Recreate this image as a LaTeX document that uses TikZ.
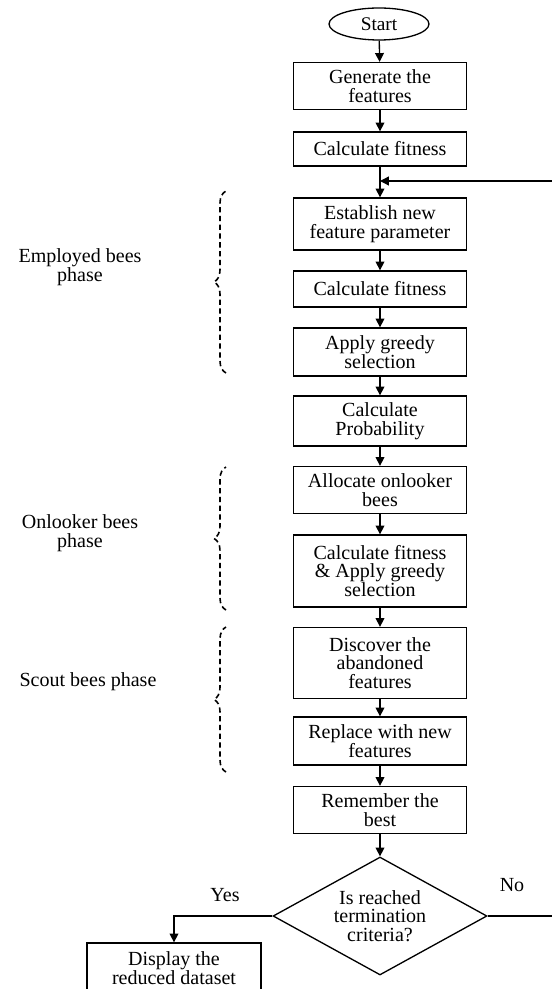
\documentclass[tikz,border=0pt]{standalone}
\usepackage{fontspec}
\setmainfont{Liberation Serif}
\usetikzlibrary{shapes.geometric,arrows.meta,decorations.pathreplacing}

\begin{document}
\begin{tikzpicture}[x=0.02cm, y=-0.02cm,
    every node/.style={font=\fontsize{11.4}{10.6}\selectfont, align=center},
    box/.style={rectangle, draw, line width=0.75pt, minimum width=3.46cm, inner sep=2pt},
    arr/.style={line width=0.75pt, -{Triangle[length=5pt,width=5pt]}},
    phase/.style={line width=0.9pt, dash pattern=on 3pt off 2pt,
        decorate, decoration={brace, amplitude=0.24cm}}]
    \useasboundingbox (0,0) rectangle (551,989);

    % ノードの定義
    \node[ellipse, draw, line width=0.75pt, minimum width=2cm, minimum height=0.64cm, inner sep=0pt, font=\fontsize{11}{10.6}\selectfont] (start) at (379, 24) {Start};
    \node[box, minimum height=0.94cm] (gen) at (380, 86) {Generate the\\features};
    \node[box, minimum height=0.68cm] (fit1) at (380, 149) {Calculate fitness};
    \coordinate (merge) at (380, 181);
    \node[box, minimum height=1.04cm] (estab) at (380, 224) {Establish new\\feature parameter};
    \node[box, minimum height=0.72cm] (fit2) at (380, 289) {Calculate fitness};
    \node[box, minimum height=0.96cm] (greedy) at (380, 352) {Apply greedy\\selection};
    \node[box, minimum height=1.0cm] (prob) at (380, 421) {Calculate\\Probability};
    \node[box, minimum height=0.94cm] (alloc) at (380, 490) {Allocate onlooker\\bees};
    \node[box, minimum height=1.44cm] (onfit) at (380, 571) {Calculate fitness\\\& Apply greedy\\selection};
    \node[box, minimum height=1.42cm] (disc) at (380, 663) {Discover the\\abandoned\\features};
    \node[box, minimum height=0.96cm] (repl) at (380, 741) {Replace with new\\features};
    \node[box, minimum height=0.94cm] (best) at (380, 810) {Remember the\\best};
    \node[diamond, draw, line width=0.75pt, aspect=1.8, minimum width=4.28cm, minimum height=2.36cm, inner sep=1pt] (dec) at (380, 916) {Is reached\\termination\\criteria?};
    \node[box, minimum width=3.48cm, minimum height=1.0cm] (disp) at (174, 968) {Display the\\reduced dataset};
    \coordinate (edge) at (565, 916);

    % ラベル
    \node (yes) at (225, 895) {Yes};
    \node (no) at (512, 885) {No};
    \node (emp) at (80, 267) {Employed bees\\phase};
    \node (onl) at (80, 533) {Onlooker bees\\phase};
    \node (sco) at (88, 682) {Scout bees phase};

    % 矢印を引く
    \draw[arr] (start) -- (gen);
    \draw[arr] (gen) -- (fit1);
    \draw[arr] (fit1) -- (estab);
    \draw[arr] (estab) -- (fit2);
    \draw[arr] (fit2) -- (greedy);
    \draw[arr] (greedy) -- (prob);
    \draw[arr] (prob) -- (alloc);
    \draw[arr] (alloc) -- (onfit);
    \draw[arr] (onfit) -- (disc);
    \draw[arr] (disc) -- (repl);
    \draw[arr] (repl) -- (best);
    \draw[arr] (best) -- (dec);
    \draw[arr] (dec.west) -| (disp.north);
    \draw[arr] (dec.east) -- (edge) |- (merge);

    % 波括弧
    \draw[phase] (226, 373) -- (226, 191);
    \draw[phase] (226, 610) -- (226, 467);
    \draw[phase] (226, 772) -- (226, 627);

  \end{tikzpicture}
\end{document}
